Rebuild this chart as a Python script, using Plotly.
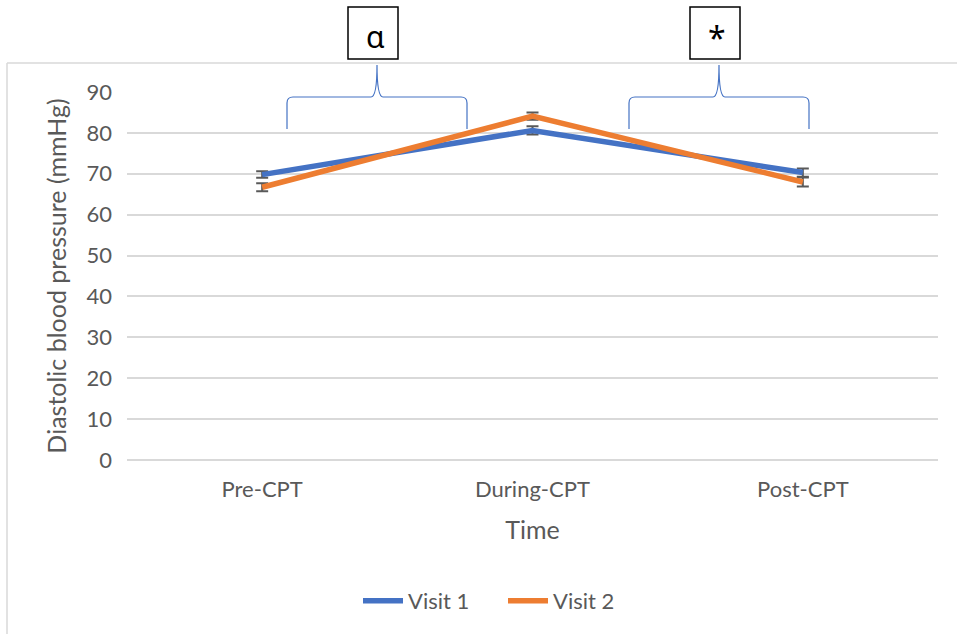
import plotly.graph_objects as go

# Diastolic blood pressure across the cold pressor test (CPT), two visits
time_points = ["Pre-CPT", "During-CPT", "Post-CPT"]
visit1_mean = [69.8, 80.6, 70.3]
visit1_err = [0.8, 1.0, 1.0]
visit2_mean = [66.7, 84.1, 68.0]
visit2_err = [1.0, 0.9, 1.1]
y_ticks = [0, 10, 20, 30, 40, 50, 60, 70, 80, 90]

W, H = 957, 634
FONT = "Lato, 'Noto Sans', sans-serif"
GREY_TEXT = "#595959"
GRID = "#D9D9D9"
BLUE = "#4472C4"
ORANGE = "#ED7D31"


def px(x):
    return x / W


def py(y):
    return 1 - y / H


fig = go.Figure()
for name, mean, err, colour in [
    ("Visit 1", visit1_mean, visit1_err, BLUE),
    ("Visit 2", visit2_mean, visit2_err, ORANGE),
]:
    fig.add_trace(go.Scatter(
        x=time_points, y=mean, name=name, mode="lines",
        line=dict(color=colour, width=5.5),
        error_y=dict(type="data", array=err, visible=True,
                     color="#595959", thickness=2, width=6),
    ))

# outer chart frame (top and left edges only)
shapes = [
    dict(type="line", xref="paper", yref="paper",
         x0=px(7), y0=py(634), x1=px(7), y1=py(63),
         line=dict(color=GRID, width=1.5)),
    dict(type="line", xref="paper", yref="paper",
         x0=px(7), y0=py(63), x1=px(957), y1=py(63),
         line=dict(color=GRID, width=1.5)),
]


def brace(left, right, tip, y_end=129, y_bar=97, y_tip=65, r=6):
    p = [
        f"M {px(left)},{py(y_end)}",
        f"L {px(left)},{py(y_bar + r)}",
        f"Q {px(left)},{py(y_bar)} {px(left + r)},{py(y_bar)}",
        f"L {px(tip - r)},{py(y_bar)}",
        f"Q {px(tip)},{py(y_bar)} {px(tip)},{py(y_tip)}",
        f"Q {px(tip)},{py(y_bar)} {px(tip + r)},{py(y_bar)}",
        f"L {px(right - r)},{py(y_bar)}",
        f"Q {px(right)},{py(y_bar)} {px(right)},{py(y_bar + r)}",
        f"L {px(right)},{py(y_end)}",
    ]
    return dict(type="path", xref="paper", yref="paper", path=" ".join(p),
                line=dict(color=BLUE, width=1.2))


shapes.append(brace(287, 467, 377))
shapes.append(brace(629, 809, 719))

annotations = []
for (x0, x1, sym, size, ty) in [(348, 398, "α", 30, 37), (690, 740, "*", 32, 38)]:
    shapes.append(dict(type="rect", xref="paper", yref="paper",
                       x0=px(x0), x1=px(x1), y0=py(59), y1=py(7),
                       line=dict(color="black", width=1.5), fillcolor="white"))
    annotations.append(dict(xref="paper", yref="paper",
                            x=px((x0 + x1) / 2 + 2), y=py(ty), text=sym,
                            showarrow=False, xanchor="center", yanchor="middle",
                            font=dict(family="'Noto Sans', sans-serif",
                                      size=size, color="black")))

fig.update_layout(
    template="none",
    width=W, height=H, autosize=False,
    margin=dict(l=0, r=0, t=0, b=0, autoexpand=False),
    paper_bgcolor="white", plot_bgcolor="white",
    font=dict(family=FONT, color=GREY_TEXT),
    shapes=shapes, annotations=annotations,
    showlegend=True,
    legend=dict(orientation="h", x=px(358), y=py(601),
                xanchor="left", yanchor="middle",
                entrywidth=90, entrywidthmode="pixels",
                font=dict(family=FONT, size=22, color=GREY_TEXT),
                bgcolor="rgba(0,0,0,0)", itemwidth=40),
    xaxis=dict(
        domain=[px(127), px(938)], range=[-0.5, 2.5], automargin=False,
        showgrid=False, zeroline=False, showline=False,
        ticks="", ticklabelstandoff=14,
        tickfont=dict(family=FONT, size=22, color=GREY_TEXT),
        title=dict(text="Time", standoff=20,
                   font=dict(family=FONT, size=25, color=GREY_TEXT)),
    ),
    yaxis=dict(
        domain=[py(460), py(92)], range=[0, 90], automargin=False,
        tickvals=y_ticks, showgrid=True, gridcolor=GRID, gridwidth=1.5,
        zeroline=True, zerolinecolor=GRID, zerolinewidth=1.5,
        showline=False, ticks="", ticklabelstandoff=14,
        tickfont=dict(family=FONT, size=22, color=GREY_TEXT),
        title=dict(text="Diastolic blood pressure (mmHg)", standoff=12,
                   font=dict(family=FONT, size=25, color=GREY_TEXT)),
    ),
)

fig.write_html("out.html")
